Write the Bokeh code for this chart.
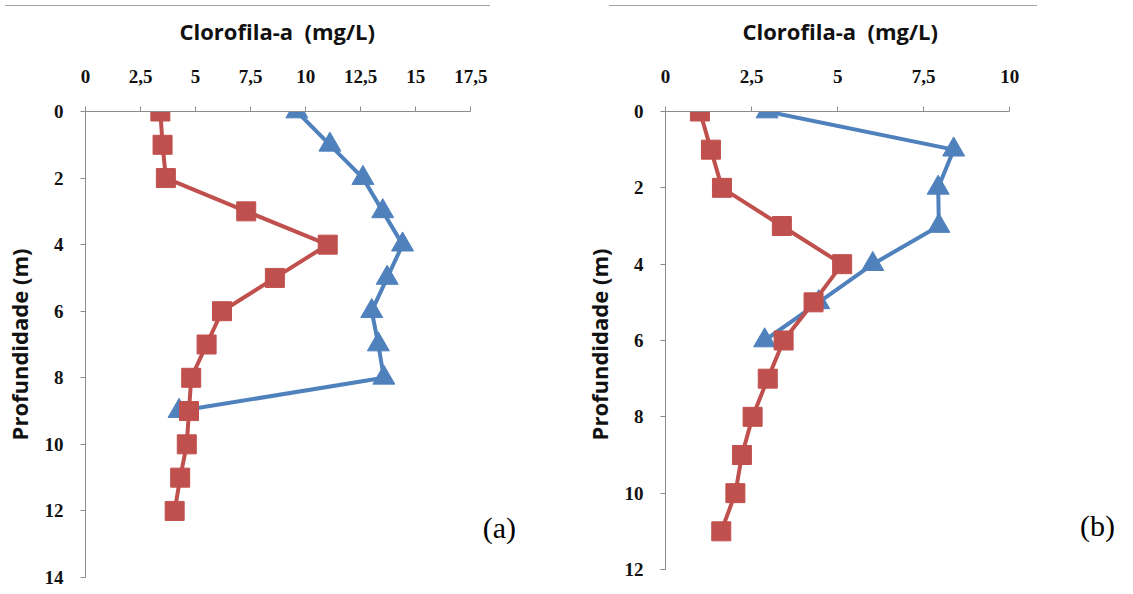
from bokeh.plotting import figure
from bokeh.models import Range1d, FixedTicker, Label, Div, Spacer, Title
from bokeh.layouts import row, column
from bokeh.embed import file_html
from bokeh.resources import INLINE

# ---- data ----
depth_a_red = [0, 1, 2, 3, 4, 5, 6, 7, 8, 9, 10, 11, 12]
chl_a_red = [3.4, 3.5, 3.65, 7.3, 11.0, 8.6, 6.2, 5.5, 4.8, 4.7, 4.6, 4.3, 4.05]
depth_a_blue = [0, 1, 2, 3, 4, 5, 6, 7, 8, 9]
chl_a_blue = [9.6, 11.1, 12.6, 13.5, 14.4, 13.7, 13.0, 13.3, 13.55, 4.25]

depth_b_red = [0, 1, 2, 3, 4, 5, 6, 7, 8, 9, 10, 11]
chl_b_red = [1.0, 1.32, 1.64, 3.38, 5.13, 4.3, 3.43, 2.97, 2.53, 2.22, 2.03, 1.62]
depth_b_blue = [0, 1, 2, 3, 4, 5, 6]
chl_b_blue = [2.95, 8.37, 7.92, 7.94, 6.02, 4.45, 2.88]

x_ticks_a = [0, 2.5, 5, 7.5, 10, 12.5, 15, 17.5]
x_labels_a = ["0", "2,5", "5", "7,5", "10", "12,5", "15", "17,5"]
y_ticks_a = [0, 2, 4, 6, 8, 10, 12, 14]
x_ticks_b = [0, 2.5, 5, 7.5, 10]
x_labels_b = ["0", "2,5", "5", "7,5", "10"]
y_ticks_b = [0, 2, 4, 6, 8, 10, 12]

x_title = "Clorofila-a \u00a0(mg/L)"
y_title = "Profundidade (m)"

RED = "#C0504D"
BLUE = "#4F81BD"
AXIS = "#8c8c8c"


def panel(width, xr, yr, xb, yb, xt, xl, yt, red, blue, tag, tag_xy, title_offset):
    p = figure(width=width, height=577, output_backend="svg",
               toolbar_location=None, x_axis_location="above",
               x_range=Range1d(0, xr), y_range=Range1d(yr, 0),
               min_border_left=79, min_border_right=2,
               min_border_top=100, min_border_bottom=11,
               title=x_title)
    p.outline_line_color = None
    p.grid.visible = False
    p.background_fill_color = "white"
    p.border_fill_color = "white"

    p.title.align = "left"
    p.title.offset = title_offset
    p.title.standoff = 0
    p.title.text_font = "Open Sans"
    p.title.text_font_style = "bold"
    p.title.text_font_size = "22px"
    p.title.text_color = "#111111"

    # empty title used only as a gap between the tick labels and the axis title
    p.add_layout(Title(text="\u00a0", text_font_size="17px", standoff=0), "above")

    for ax in (p.xaxis[0], p.yaxis[0]):
        ax.axis_line_color = AXIS
        ax.major_tick_line_color = AXIS
        ax.minor_tick_line_color = None
        ax.major_tick_out = 5
        ax.major_tick_in = 0
        ax.major_label_text_font = "Liberation Serif"
        ax.major_label_text_font_style = "bold"
        ax.major_label_text_font_size = "19px"
        ax.major_label_text_color = "#111111"
        ax.axis_label_text_font = "Open Sans"
        ax.axis_label_text_font_style = "bold"
        ax.axis_label_text_color = "#111111"

    p.xaxis[0].bounds = (0, xb)
    p.xaxis[0].ticker = FixedTicker(ticks=xt)
    p.xaxis[0].major_label_overrides = {t: l for t, l in zip(xt, xl)}
    p.xaxis[0].major_label_standoff = 24

    p.yaxis[0].bounds = (0, yb)
    p.yaxis[0].ticker = FixedTicker(ticks=yt)
    p.yaxis[0].major_label_standoff = 17
    p.yaxis[0].axis_label = y_title
    p.yaxis[0].axis_label_text_font_size = "22px"
    p.yaxis[0].axis_label_standoff = 8

    (bx, by), (rx, ry) = blue, red
    p.line(bx, by, line_color=BLUE, line_width=4)
    p.scatter(bx, by, marker="triangle", size=22, fill_color=BLUE, line_color=BLUE)
    p.line(rx, ry, line_color=RED, line_width=4)
    p.scatter(rx, ry, marker="square", size=19, fill_color=RED, line_color=RED)

    p.add_layout(Label(x=tag_xy[0], y=tag_xy[1], text=tag, text_font="Liberation Serif",
                       text_font_size="30px", text_align="center",
                       text_baseline="middle", text_color="black"))
    return p


pa = panel(580, 22.39, 14, 17.5, 14, x_ticks_a, x_labels_a, y_ticks_a,
           (chl_a_red, depth_a_red), (chl_a_blue, depth_a_blue), "(a)", (18.8, 12.5), 94)
pb = panel(537, 13.07, 12.21, 10, 12, x_ticks_b, x_labels_b, y_ticks_b,
           (chl_b_red, depth_b_red), (chl_b_blue, depth_b_blue), "(b)", (12.55, 10.85), 77)

line_a = Div(text="", width=485, height=1, styles={"background-color": "#a0a0a0"})
gap = Spacer(width=109, height=1)
line_b = Div(text="", width=428, height=1, styles={"background-color": "#a0a0a0"})

layout = column(row(line_a, gap, line_b), row(pa, pb))

open("out.html", "w").write(file_html(layout, INLINE))
